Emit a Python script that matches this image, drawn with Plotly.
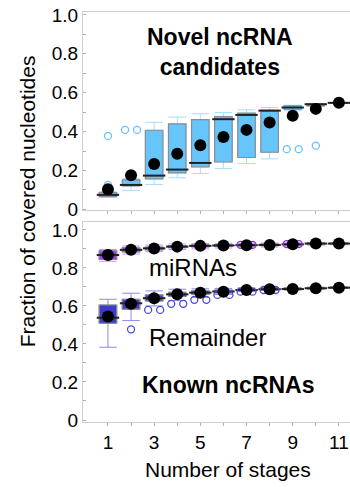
import plotly.graph_objects as go
from collections import Counter

stages = [1, 2, 3, 4, 5, 6, 7, 8, 9, 10, 11]
x_tick_text = ["1", "", "3", "", "5", "", "7", "", "9", "", "11"]
y_tick_vals = [0, 0.2, 0.4, 0.6, 0.8, 1.0]
y_tick_text = ["0", "0.2", "0.4", "0.6", "0.8", "1.0"]

# Novel ncRNA candidates
nov_q1 = [0.066, 0.121, 0.157, 0.188, 0.219, 0.244, 0.267, 0.294, 0.515, 0.532, 0.546]
nov_median = [0.075, 0.126, 0.174, 0.205, 0.239, 0.464, 0.486, 0.508, 0.524, 0.541, 0.548]
nov_q3 = [0.087, 0.152, 0.407, 0.440, 0.462, 0.477, 0.495, 0.510, 0.532, 0.543, 0.549]
nov_lower = [0.062, 0.097, 0.128, 0.163, 0.185, 0.210, 0.236, 0.260, 0.508, 0.530, 0.546]
nov_upper = [0.092, 0.158, 0.448, 0.475, 0.492, 0.498, 0.512, 0.524, 0.536, 0.545, 0.549]
nov_mean = [0.104, 0.176, 0.234, 0.286, 0.330, 0.372, 0.409, 0.447, 0.482, 0.517, 0.548]
nov_out_stage = [1, 1, 2, 2, 9, 9, 10]
nov_out_value = [0.378, 0.126, 0.409, 0.409, 0.310, 0.310, 0.328]

# Known ncRNAs: miRNAs
mi_q1 = [0.845, 0.884, 0.895, 0.906, 0.910, 0.913, 0.915, 0.917, 0.920, 0.925, 0.926]
mi_median = [0.868, 0.895, 0.903, 0.912, 0.916, 0.918, 0.920, 0.921, 0.924, 0.928, 0.928]
mi_q3 = [0.890, 0.906, 0.910, 0.918, 0.921, 0.923, 0.924, 0.925, 0.927, 0.930, 0.930]
mi_lower = [0.835, 0.873, 0.886, 0.897, 0.900, 0.905, 0.908, 0.910, 0.913, 0.920, 0.922]
mi_upper = [0.897, 0.915, 0.920, 0.926, 0.928, 0.929, 0.930, 0.931, 0.932, 0.933, 0.933]
mi_mean = [0.868, 0.895, 0.902, 0.912, 0.916, 0.918, 0.919, 0.921, 0.924, 0.928, 0.928]
mi_out_stage = [4, 7, 7, 9, 9, 10]
mi_out_value = [0.912, 0.921, 0.921, 0.925, 0.925, 0.930]

# Known ncRNAs: Remainder
rem_q1 = [0.509, 0.583, 0.626, 0.650, 0.662, 0.668, 0.679, 0.684, 0.686, 0.691, 0.694]
rem_median = [0.538, 0.614, 0.641, 0.661, 0.670, 0.676, 0.684, 0.688, 0.689, 0.693, 0.696]
rem_q3 = [0.605, 0.635, 0.658, 0.672, 0.679, 0.683, 0.689, 0.692, 0.692, 0.695, 0.698]
rem_lower = [0.383, 0.523, 0.600, 0.628, 0.645, 0.660, 0.676, 0.682, 0.684, 0.688, 0.692]
rem_upper = [0.635, 0.667, 0.679, 0.688, 0.690, 0.692, 0.695, 0.697, 0.697, 0.699, 0.700]
rem_mean = [0.544, 0.611, 0.640, 0.661, 0.670, 0.675, 0.684, 0.688, 0.689, 0.693, 0.696]
rem_out_stage = [2, 3, 3, 4, 4, 5, 5, 6, 6, 7, 7, 8, 8, 9]
rem_out_value = [0.477, 0.579, 0.579, 0.611, 0.611, 0.632, 0.632, 0.658, 0.658,
                 0.675, 0.675, 0.684, 0.684, 0.689]

FONT = "Arial, Liberation Sans, sans-serif"
BOX_W = 0.76
JIT = 0.26


def jitter(st, vals):
    cnt = Counter(zip(st, vals))
    seen = Counter()
    xs = []
    for s, v in zip(st, vals):
        n = cnt[(s, v)]
        if n == 1:
            xs.append(s)
        else:
            k = seen[(s, v)]
            xs.append(s + (-JIT if k == 0 else JIT))
            seen[(s, v)] += 1
    return xs


def add_group(fig, yaxis, q1, med, q3, lo, hi, mean, out_s, out_v,
              fill, whisk, outc):
    xa = "x" if yaxis == "y" else "x2"
    # whiskers
    fig.add_trace(go.Box(x=stages, q1=q1, median=med, q3=q3, lowerfence=lo,
                         upperfence=hi, width=BOX_W, whiskerwidth=1,
                         fillcolor="rgba(0,0,0,0)", line=dict(color=whisk, width=1),
                         boxpoints=False, xaxis=xa, yaxis=yaxis, showlegend=False,
                         hoverinfo="skip"))
    # boxes
    fig.add_trace(go.Box(x=stages, q1=q1, median=med, q3=q3, lowerfence=q1,
                         upperfence=q3, width=BOX_W, whiskerwidth=0,
                         fillcolor=fill, line=dict(color="#8c8c8c", width=1.2),
                         boxpoints=False, xaxis=xa, yaxis=yaxis, showlegend=False,
                         hoverinfo="skip"))
    # medians
    fig.add_trace(go.Scatter(x=stages, y=med, mode="markers",
                             marker=dict(symbol="line-ew", size=16,
                                         line=dict(color="#222222", width=2)),
                             xaxis=xa, yaxis=yaxis, showlegend=False))
    # outliers
    fig.add_trace(go.Scatter(x=jitter(out_s, out_v), y=out_v, mode="markers",
                             marker=dict(symbol="circle-open", size=7,
                                         line=dict(color=outc, width=1.3), color=outc),
                             xaxis=xa, yaxis=yaxis, showlegend=False))


fig = go.Figure()
add_group(fig, "y", nov_q1, nov_median, nov_q3, nov_lower, nov_upper, nov_mean,
          nov_out_stage, nov_out_value, "#66c6fc", "#a9ddf9", "#66c2f5")
add_group(fig, "y2", mi_q1, mi_median, mi_q3, mi_lower, mi_upper, mi_mean,
          mi_out_stage, mi_out_value, "#9d35f2", "#c793f3", "#8a2be2")
add_group(fig, "y2", rem_q1, rem_median, rem_q3, rem_lower, rem_upper, rem_mean,
          rem_out_stage, rem_out_value, "#3c3cc6", "#8a8ae6", "#4a4ad6")

for ya, xa, mean in [("y", "x", nov_mean), ("y2", "x2", mi_mean), ("y2", "x2", rem_mean)]:
    fig.add_trace(go.Scatter(x=stages, y=mean, mode="markers",
                             marker=dict(symbol="circle", size=12, color="black"),
                             xaxis=xa, yaxis=ya, showlegend=False))

LINE = "#cfcfcf"
common_x = dict(range=[-0.08, 11.48], tickvals=stages, ticks="outside", ticklen=3,
                tickcolor="#b0b0b0", showline=True, linecolor=LINE, mirror=True,
                showgrid=False, zeroline=False, automargin=False,
                ticklabeloverflow="allow")
common_y = dict(tickvals=y_tick_vals, ticktext=y_tick_text, ticks="", showline=True,
                linecolor=LINE, mirror=True, showgrid=False, zeroline=False,
                automargin=False, ticklabeloverflow="allow",
                minor=dict(dtick=0.1, tick0=0, ticks="inside", ticklen=3,
                           tickcolor="#b0b0b0"),
                tickfont=dict(size=19, color="black", family=FONT))

fig.update_layout(
    width=350, height=487,
    margin=dict(l=83, r=0, t=12, b=65, autoexpand=False),
    paper_bgcolor="white", plot_bgcolor="white",
    boxmode="overlay",
    font=dict(family=FONT, color="black"),
    xaxis=dict(domain=[0, 1], anchor="y", showticklabels=False, **common_x),
    yaxis=dict(domain=[0.517, 1], anchor="x", range=[-0.003, 1.015], **common_y),
    xaxis2=dict(domain=[0, 1], anchor="y2", ticktext=x_tick_text,
                tickfont=dict(size=19, color="black", family=FONT), **common_x),
    yaxis2=dict(domain=[0, 0.488], anchor="x2", range=[-0.0105, 1.042], **common_y),
)

fig.add_annotation(text="<b>Novel ncRNA<br>candidates</b>", x=5.85, y=0.81, xref="x", yref="y",
                   showarrow=False, font=dict(size=23, family=FONT))
fig.add_annotation(text="miRNAs", x=4.68, y=0.80, xref="x2", yref="y2",
                   showarrow=False, font=dict(size=24, family=FONT))
fig.add_annotation(text="Remainder", x=5.33, y=0.432, xref="x2", yref="y2",
                   showarrow=False, font=dict(size=24, family=FONT))
fig.add_annotation(text="<b>Known ncRNAs</b>", x=6.24, y=0.184, xref="x2", yref="y2",
                   showarrow=False, font=dict(size=23, family=FONT))
fig.add_annotation(text="Fraction of covered nucleotides", x=-0.21, y=0.538,
                   xref="paper", yref="paper", xanchor="center", yanchor="middle",
                   textangle=-90, showarrow=False, font=dict(size=21, family=FONT))
fig.add_annotation(text="Number of stages", x=0.543, y=-0.117, xref="paper", yref="paper",
                   xanchor="center", yanchor="middle",
                   showarrow=False, font=dict(size=21, family=FONT))

fig.write_html("out.html", config={"displayModeBar": False},
               post_script="document.body.style.margin='0';")
